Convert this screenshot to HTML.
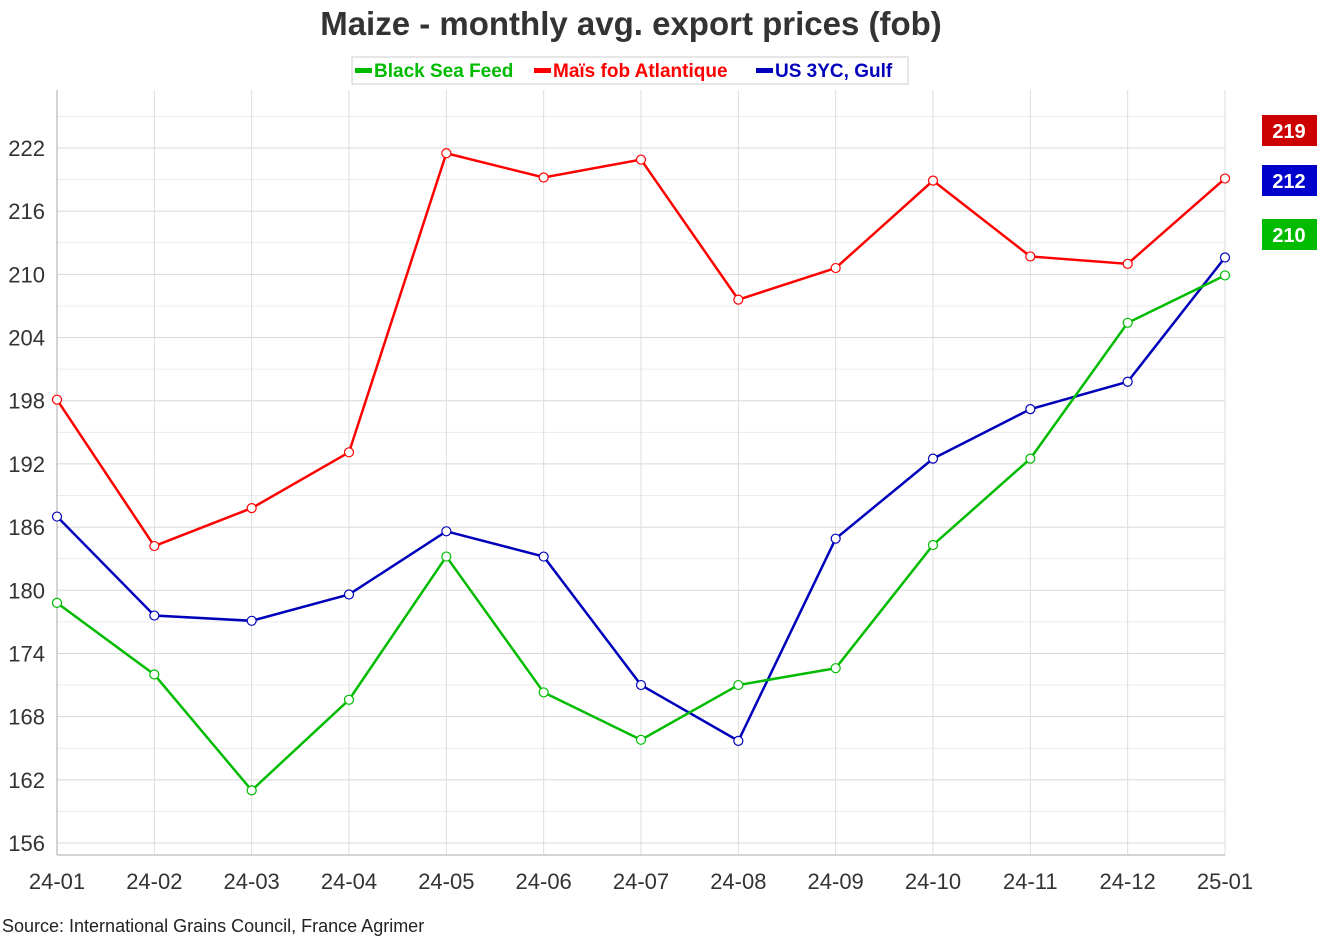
<!DOCTYPE html>
<html><head><meta charset="utf-8"><style>
body{margin:0;background:#fff;}
svg text{font-family:"Liberation Sans",sans-serif;}
</style></head><body>
<svg id="chart" width="1326" height="943" xmlns="http://www.w3.org/2000/svg">
<text x="631" y="35" text-anchor="middle" font-size="33" font-weight="bold" fill="#333">Maize - monthly avg. export prices (fob)</text>
<g>
<rect x="352" y="57" width="556" height="27" fill="#fff" stroke="#ccc"/>
<g><rect x="355" y="68" width="17" height="5" fill="#00bb00"/><text x="374" y="77" font-size="19" font-weight="bold" fill="#00bb00">Black Sea Feed</text></g>
<g><rect x="534" y="68" width="17" height="5" fill="#ff0000"/><text x="553" y="77" font-size="19" font-weight="bold" fill="#ff0000">Maïs fob Atlantique</text></g>
<g><rect x="756" y="68" width="17" height="5" fill="#0000bb"/><text x="775" y="77" font-size="19" font-weight="bold" fill="#0000bb">US 3YC, Gulf</text></g>
</g>
<g id="grid"></g><g id="axes"></g><g id="series"></g><g id="tags"></g>
<text x="2" y="932" font-size="18" fill="#222">Source: International Grains Council, France Agrimer</text>
</svg>
<script>
const categories=["24-01","24-02","24-03","24-04","24-05","24-06","24-07","24-08","24-09","24-10","24-11","24-12","25-01"];
const blackSea=[178.8,172.0,161.0,169.6,183.2,170.3,165.8,171.0,172.6,184.3,192.5,205.4,209.9];
const maisFob=[198.1,184.2,187.8,193.1,221.5,219.2,220.9,207.6,210.6,218.9,211.7,211.0,219.1];
const us3yc=[187.0,177.6,177.1,179.6,185.6,183.2,171.0,165.7,184.9,192.5,197.2,199.8,211.6];
const yTicks=[156,162,168,174,180,186,192,198,204,210,216,222];
const tagLabels=["210","219","212"];
const NS="http://www.w3.org/2000/svg";
const x0=57,x1=1225,yTop=90,yBot=855;
const X=i=>x0+i*(x1-x0)/(categories.length-1);
const Y=v=>148+(222-v)*(843-148)/66;
function mk(p,t,a){const e=document.createElementNS(NS,t);for(const k in a)e.setAttribute(k,a[k]);p.appendChild(e);return e;}
const grid=document.getElementById('grid'),axes=document.getElementById('axes'),ser=document.getElementById('series'),tags=document.getElementById('tags');
for(let v=156;v<=225;v+=3){
 const g=mk(grid,'line',{x1:x0,x2:x1,y1:Y(v),y2:Y(v),stroke:v%6==0?'#d8d8d8':'#ececec','stroke-width':1});
 
 
}
categories.forEach((c,i)=>{
 const g=mk(grid,'line',{x1:X(i),x2:X(i),y1:yTop,y2:yBot,stroke:'#dddddd'});
 
 
 const t=mk(axes,'text',{x:X(i),y:889,'text-anchor':'middle','font-size':22,fill:'#333'});
 t.textContent=c;
 
 
});
yTicks.forEach(v=>{
 const t=mk(axes,'text',{x:45,y:Y(v)+8,'text-anchor':'end','font-size':22,fill:'#333'});
 t.textContent=v;
 
 
});
const ya=mk(axes,'line',{x1:x0,x2:x0,y1:yTop,y2:yBot,stroke:'#aaa'});


const xa=mk(axes,'line',{x1:x0,x2:x1,y1:yBot,y2:yBot,stroke:'#aaa'});


const list=[[maisFob,'#ff0000','mais-fob'],[us3yc,'#0000bb','us-3yc'],[blackSea,'#00bb00','black-sea']];
list.forEach(([d,col,n])=>{
 const p=mk(ser,'polyline',{points:d.map((v,i)=>X(i)+','+Y(v)).join(' '),fill:'none',stroke:col,'stroke-width':2.5});
 
 
 d.forEach((v,i)=>{
  const c=mk(ser,'circle',{cx:X(i),cy:Y(v),r:4.5,fill:'#fff',stroke:col,'stroke-width':1.2});
  
  
 });
});
const tagCols=['#00bb00','#cc0000','#0000cc'];
const tagY=[235,131,181];
tagLabels.forEach((l,i)=>{
 const g=mk(tags,'g',{});
 
 
 mk(g,'rect',{x:1262,y:tagY[i]-16,width:55,height:31,fill:tagCols[i]});
 const t=mk(g,'text',{x:1289,y:tagY[i]+7,'text-anchor':'middle','font-size':20,'font-weight':'bold',fill:'#fff'});
 t.textContent=l;
});
</script>
</body></html>
